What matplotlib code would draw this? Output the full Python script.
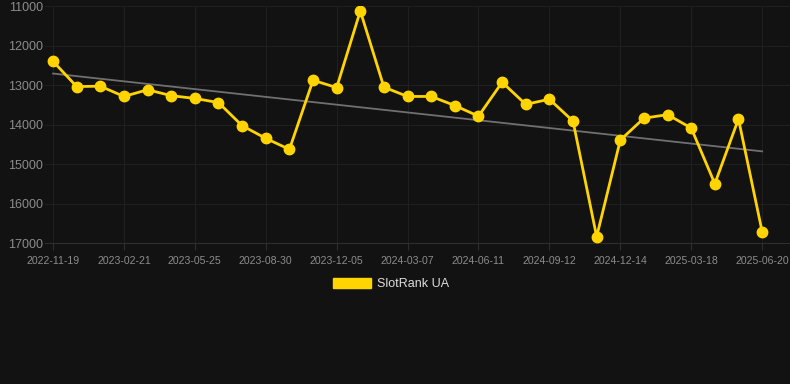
import matplotlib
matplotlib.use('Agg')
import matplotlib.pyplot as plt
import numpy as np
from matplotlib.patches import Patch

plt.rcParams['font.family'] = ['Liberation Sans', 'DejaVu Sans']

# monthly rank snapshots (lower is better, axis inverted)
ranks = [12400, 13040, 13030, 13290, 13120, 13270, 13340, 13445, 14030, 14350,
         14630, 12880, 13065, 11125, 13055, 13290, 13290, 13520, 13790, 12930,
         13490, 13360, 13915, 16840, 14395, 13840, 13750, 14090, 15500, 13860,
         16710]
tick_labels = ['2022-11-19', '2023-02-21', '2023-05-25', '2023-08-30', '2023-12-05',
               '2024-03-07', '2024-06-11', '2024-09-12', '2024-12-14', '2025-03-18',
               '2025-06-20']
trend = [12710, 14680]  # trend line at first and last point
y_ticks = [11000, 12000, 13000, 14000, 15000, 16000, 17000]

bg = '#121212'
yellow = '#FFD400'

fig = plt.figure(figsize=(7.9, 3.84), dpi=100, facecolor=bg)
ax = fig.add_axes([45/790, 1 - 243/384, 1 - 45/790, 237/384])
ax.set_facecolor(bg)

x = np.arange(len(ranks))
ax.plot([x[0], x[-1]], trend, color='#707070', lw=1.3, zorder=2)
ax.plot(x, ranks, color=yellow, lw=2.0, marker='o', markersize=7.5, zorder=3)

ax.set_xlim(-0.34, 31.18)
ax.set_ylim(17000, 11000)
ax.set_yticks(y_ticks)
ax.set_yticklabels([str(v) for v in y_ticks])
ax.set_xticks(x[::3])
ax.set_xticklabels(tick_labels)

ax.grid(True, color='#1f1f1f', lw=0.8)
ax.set_axisbelow(True)
for s in ['top', 'right', 'left']:
    ax.spines[s].set_visible(False)
ax.spines['bottom'].set_color('#2e2e2e')
ax.tick_params(axis='y', length=0, pad=1.5, labelsize=9, labelcolor='#8c8c8c')
ax.tick_params(axis='x', length=5, color='#2e2e2e', pad=4, labelsize=7.6, labelcolor='#8c8c8c')

handles = [Patch(facecolor=yellow, edgecolor=yellow, label='SlotRank UA')]
leg = fig.legend(handles=handles, loc='center', bbox_to_anchor=(391/790, 1 - 284/384),
                 frameon=False, handlelength=3.0, handleheight=0.8, fontsize=9,
                 labelcolor='#dddddd', handletextpad=0.5)

fig.savefig('out.png', dpi=100, facecolor=bg)
